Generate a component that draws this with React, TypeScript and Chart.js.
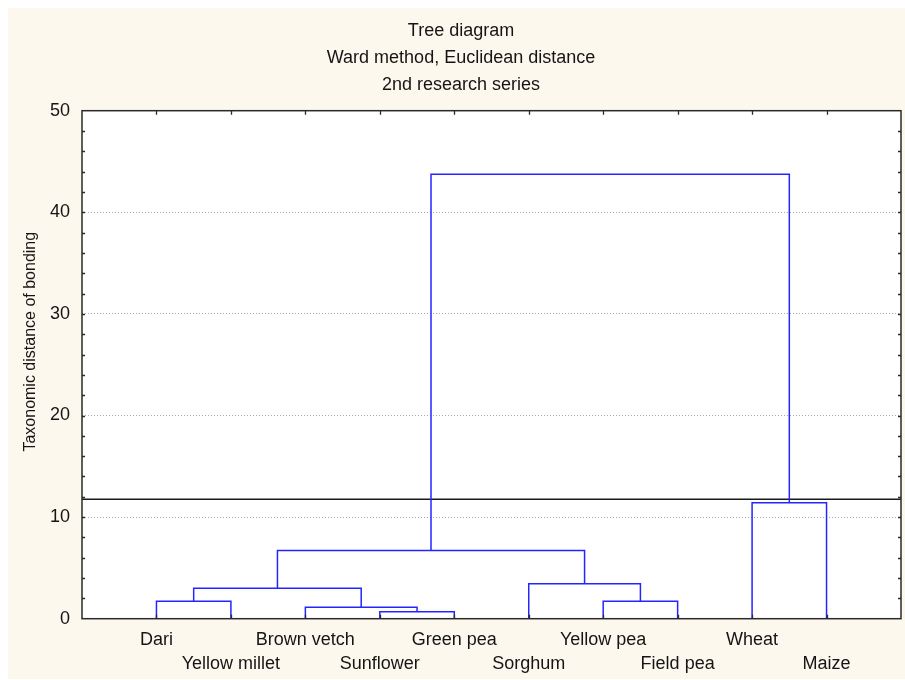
import React, { useEffect, useRef } from "react";
import { Chart, registerables } from "chart.js";

Chart.register(...registerables);

// ---- data ----
const leaves = [
  "Dari",
  "Yellow millet",
  "Brown vetch",
  "Sunflower",
  "Green pea",
  "Sorghum",
  "Yellow pea",
  "Field pea",
  "Wheat",
  "Maize",
];
// merge steps: node ids 0..9 are leaves, 10+ are clusters created in order
const mergeA = [0, 3, 2, 10, 6, 5, 13, 8, 16];
const mergeB = [1, 4, 11, 12, 7, 14, 15, 9, 17];
const mergeHeight = [1.72, 0.69, 1.13, 3.0, 1.71, 3.43, 6.72, 11.42, 43.75];
const cutLevel = 11.75;
const yMin = 0;
const yMax = 50;
const yStep = 10;
const yMinorStep = 2;
const titleLines = ["Tree diagram", "Ward method, Euclidean distance", "2nd research series"];
const yAxisTitle = "Taxonomic distance of bonding";

const FONT = "'Liberation Sans', Arial, sans-serif";
const TEXT = "#151515";
const BLUE = "#2424ff";
const FRAME = "#2a2a2a";

function buildDendrogram() {
  const xs: number[] = leaves.map((_, i) => i + 1);
  const hs: number[] = leaves.map(() => 0);
  const sets: any[] = [];
  mergeA.forEach((a, k) => {
    const b = mergeB[k];
    const h = mergeHeight[k];
    sets.push({
      data: [
        { x: xs[a], y: hs[a] },
        { x: xs[a], y: h },
        { x: xs[b], y: h },
        { x: xs[b], y: hs[b] },
      ],
      borderColor: BLUE,
      borderWidth: 1.5,
      pointRadius: 0,
      fill: false,
      tension: 0,
    });
    xs.push((xs[a] + xs[b]) / 2);
    hs.push(h);
  });
  return sets;
}

const framePlugin = {
  id: "frameAndTicks",
  beforeDraw(chart: any) {
    const { ctx, chartArea: a } = chart;
    ctx.save();
    ctx.fillStyle = "#ffffff";
    ctx.fillRect(a.left, a.top, a.right - a.left, a.bottom - a.top);
    ctx.restore();
  },
  afterDatasetsDraw(chart: any) {
    const { ctx, chartArea: a, scales } = chart;
    const xs = scales.x;
    const ys = scales.y;
    ctx.save();
    ctx.strokeStyle = FRAME;
    ctx.lineWidth = 1.5;
    ctx.strokeRect(a.left, a.top, a.right - a.left, a.bottom - a.top);
    ctx.lineWidth = 1.3;
    ctx.beginPath();
    // top and bottom ticks at leaf positions
    leaves.forEach((_, i) => {
      const px = Math.round(xs.getPixelForValue(i + 1)) + 0.5;
      ctx.moveTo(px, a.top);
      ctx.lineTo(px, a.top + 4);
      ctx.moveTo(px, a.bottom);
      ctx.lineTo(px, a.bottom - 4);
    });
    // left and right minor ticks
    for (let v = yMin + yMinorStep; v < yMax; v += yMinorStep) {
      const py = Math.round(ys.getPixelForValue(v)) + 0.5;
      ctx.moveTo(a.left, py);
      ctx.lineTo(a.left + 3, py);
      ctx.moveTo(a.right, py);
      ctx.lineTo(a.right - 3, py);
    }
    ctx.stroke();
    ctx.restore();
  },
  afterDraw(chart: any) {
    const { ctx, chartArea: a } = chart;
    ctx.save();
    ctx.fillStyle = TEXT;
    ctx.font = `16px ${FONT}`;
    ctx.textAlign = "center";
    ctx.textBaseline = "middle";
    ctx.translate(23, (a.top + a.bottom) / 2 - 23);
    ctx.rotate(-Math.PI / 2);
    ctx.fillText(yAxisTitle, 0, 0);
    ctx.restore();
  },
};

export default function App() {
  const ref = useRef<HTMLCanvasElement | null>(null);

  useEffect(() => {
    document.documentElement.style.overflow = "hidden";
    document.body.style.margin = "8px 0 0 8px";
    const canvas = ref.current;
    if (!canvas) return;
    const datasets = buildDendrogram();
    datasets.push({
      data: [
        { x: 0, y: cutLevel },
        { x: leaves.length + 1, y: cutLevel },
      ],
      borderColor: "#1a1a1a",
      borderWidth: 1.4,
      pointRadius: 0,
      fill: false,
      tension: 0,
    });
    const chart = new Chart(canvas, {
      type: "line",
      data: { datasets },
      options: {
        animation: false,
        responsive: false,
        events: [],
        layout: { padding: { left: 13, right: 4, top: 0, bottom: 0 } },
        plugins: {
          legend: { display: false },
          tooltip: { enabled: false },
          title: {
            display: true,
            text: titleLines,
            color: TEXT,
            font: { family: FONT, size: 18, weight: "normal", lineHeight: 1.5 },
            padding: { top: 9.5, bottom: 12.2 },
          },
        },
        scales: {
          x: {
            type: "linear",
            min: 0,
            max: leaves.length + 1,
            grid: { display: false, drawTicks: false },
            border: { display: false },
            ticks: {
              stepSize: 1,
              autoSkip: false,
              maxRotation: 0,
              minRotation: 0,
              padding: 9.3,
              color: TEXT,
              font: { family: FONT, size: 18, lineHeight: 1.333 },
              callback: (v: any) => {
                const i = Math.round(Number(v)) - 1;
                if (i < 0 || i >= leaves.length) return "";
                return i % 2 === 0 ? leaves[i] : ["", leaves[i]];
              },
            },
            afterFit: (s: any) => {
              s.height = 60.3;
              s.paddingLeft = 0;
              s.paddingRight = 0;
            },
          },
          y: {
            type: "linear",
            min: yMin,
            max: yMax,
            grid: {
              drawTicks: false,
              color: (c: any) =>
                c.tick && c.tick.value > yMin && c.tick.value < yMax ? "#a8a8a8" : "rgba(0,0,0,0)",
              lineWidth: 1,
            },
            border: { display: false, dash: [1, 2] },
            ticks: {
              stepSize: yStep,
              padding: 12,
              color: TEXT,
              font: { family: FONT, size: 18 },
            },
            afterFit: (s: any) => {
              s.width = 61;
              s.paddingTop = 0;
              s.paddingBottom = 0;
            },
          },
        },
      },
      plugins: [framePlugin],
    } as any);
    return () => chart.destroy();
  }, []);

  return (
    <div style={{ width: 897, height: 671, background: "#fdf8ed" }}>
      <canvas ref={ref} width={897} height={671} style={{ display: "block", width: 897, height: 671 }} />
    </div>
  );
}
